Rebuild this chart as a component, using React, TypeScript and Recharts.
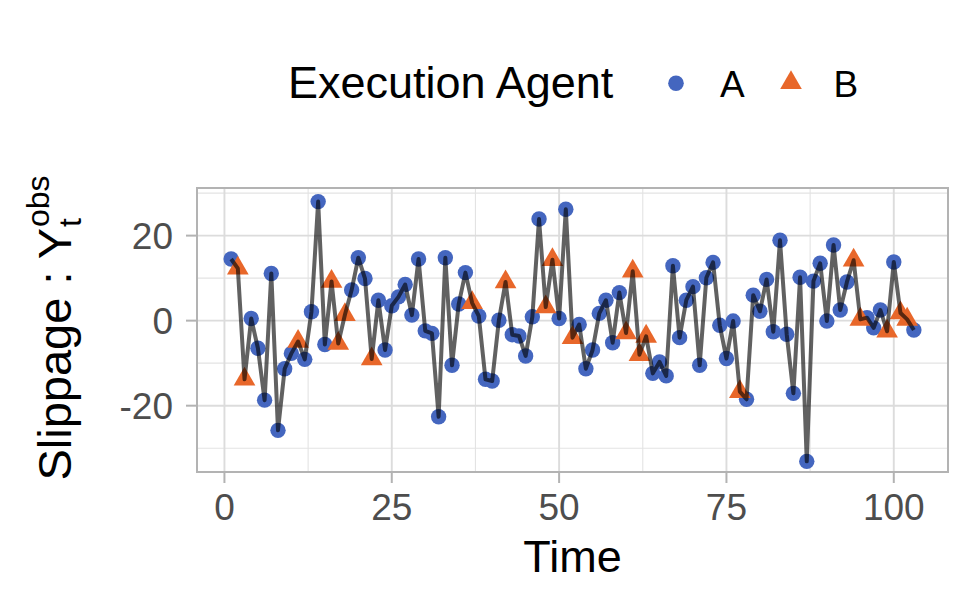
import React from "react";
import {
  ComposedChart,
  Scatter,
  Line,
  XAxis,
  YAxis,
  CartesianGrid,
  ReferenceArea,
} from "recharts";

const times = [
  1, 2, 3, 4, 5, 6, 7, 8, 9, 10, 11, 12, 13, 14, 15, 16, 17, 18, 19, 20,
  21, 22, 23, 24, 25, 26, 27, 28, 29, 30, 31, 32, 33, 34, 35, 36, 37, 38, 39, 40,
  41, 42, 43, 44, 45, 46, 47, 48, 49, 50, 51, 52, 53, 54, 55, 56, 57, 58, 59, 60,
  61, 62, 63, 64, 65, 66, 67, 68, 69, 70, 71, 72, 73, 74, 75, 76, 77, 78, 79, 80,
  81, 82, 83, 84, 85, 86, 87, 88, 89, 90, 91, 92, 93, 94, 95, 96, 97, 98, 99, 100,
  101, 102, 103,
];

const slippage = [
  14.5, 12.3, -13.8, 0.5, -6.5, -18.7, 11.1, -25.8, -11.3, -7.7,
  -4.9, -9.1, 2.1, 28.0, -5.6, 9.2, -5.4, 1.4, 7.2, 14.8,
  9.9, -9.0, 4.8, -6.9, 3.5, 5.6, 8.5, 1.3, 14.5, -2.4,
  -3.0, -22.6, 14.8, -10.5, 3.9, 11.3, 4.2, 1.1, -13.8, -14.2,
  0.1, 9.1, -3.3, -3.6, -8.3, 0.9, 23.9, 3.2, 14.3, 0.5,
  26.2, -4.0, -0.9, -11.3, -6.9, 1.7, 4.8, -5.2, 6.6, -2.9,
  11.6, -8.0, -3.7, -12.4, -9.7, -13.0, 12.9, -4.0, 4.8, 8.0,
  -10.5, 10.1, 13.7, -1.1, -8.9, -0.1, -16.7, -18.5, 6.0, 2.2,
  9.7, -2.6, 18.9, -3.2, -17.1, 10.2, -33.1, 9.3, 13.5, -0.1,
  17.8, 2.5, 9.1, 14.2, 0.3, 0.7, -1.7, 2.5, -2.5, 13.8,
  1.8, 0.3, -2.2,
];

const agents = [
  "A", "B", "B", "A", "A", "A", "A", "A", "A", "A",
  "B", "A", "A", "A", "A", "B", "B", "B", "A", "A",
  "A", "B", "A", "A", "A", "A", "A", "A", "A", "A",
  "A", "A", "A", "A", "A", "A", "B", "A", "A", "A",
  "A", "B", "A", "A", "A", "A", "A", "B", "B", "A",
  "A", "B", "A", "A", "A", "A", "A", "A", "A", "B",
  "B", "B", "B", "A", "A", "A", "A", "A", "A", "A",
  "A", "A", "A", "A", "A", "A", "B", "A", "A", "A",
  "A", "A", "A", "A", "A", "A", "A", "A", "A", "A",
  "A", "A", "A", "B", "B", "A", "A", "A", "B", "A",
  "B", "B", "A",
];

const xTicks = [0, 25, 50, 75, 100];
const xMinor = [12.5, 37.5, 62.5, 87.5];
const yTicks = [-20, 0, 20];
const yMinor = [-30, -10, 10, 30];

const FONT = "'Liberation Sans', Arial, Helvetica, sans-serif";
const BLUE = "#4466bf";
const ORANGE = "#e8672a";
const X_DOMAIN: [number, number] = [-4.1, 108.1];
const Y_DOMAIN: [number, number] = [-35.6, 31.2];

const rows = times.map((t, i) => ({ time: t, value: slippage[i], agent: agents[i] }));
const rowsA = rows.filter((r) => r.agent === "A");
const rowsB = rows.filter((r) => r.agent === "B");

const CircleDot = (props: any) => {
  const { cx, cy } = props;
  if (cx == null || cy == null) return null;
  return <circle cx={cx} cy={cy} r={7.7} fill={BLUE} />;
};

const TriangleDot = (props: any) => {
  const { cx, cy } = props;
  if (cx == null || cy == null) return null;
  const s = 8.05;
  const pts = [
    [cx, cy - 1.555 * s],
    [cx + 1.347 * s, cy + 0.778 * s],
    [cx - 1.347 * s, cy + 0.778 * s],
  ]
    .map((p) => p.join(","))
    .join(" ");
  return <polygon points={pts} fill={ORANGE} />;
};

const YTitle = (props: any) => {
  const vb = props.viewBox || {};
  const x = 71;
  const y = (vb.y ?? 188) + (vb.height ?? 284) / 2 - 2;
  return (
    <text
      x={x}
      y={y}
      transform={`rotate(-90, ${x}, ${y})`}
      textAnchor="middle"
      fontFamily={FONT}
      fontSize={47}
      fill="#000"
    >
      <tspan>Slippage : Y</tspan>
      <tspan fontSize={32} dx={1} dy={10}>t</tspan>
      <tspan fontSize={32} dx={-8.9} dy={-32}>obs</tspan>
    </text>
  );
};

const XTitle = (props: any) => {
  const vb = props.viewBox || {};
  const x = (vb.x ?? 197) + (vb.width ?? 751) / 2;
  const y = (vb.y ?? 472) + 100;
  return (
    <text x={x} y={y} textAnchor="middle" fontFamily={FONT} fontSize={45} fill="#000">
      Time
    </text>
  );
};

function LegendBox() {
  return (
    <svg width={975} height={140} style={{ position: "absolute", left: 0, top: 0 }}>
      <text x={288} y={98} fontFamily={FONT} fontSize={45} fill="#000">
        Execution Agent
      </text>
      <circle cx={676} cy={83.3} r={7.8} fill={BLUE} />
      <text x={720} y={97} fontFamily={FONT} fontSize={37} fill="#000">
        A
      </text>
      <polygon points="791,70.2 801.8,88.9 780.2,88.9" fill={ORANGE} />
      <text x={833.5} y={97} fontFamily={FONT} fontSize={37} fill="#000">
        B
      </text>
    </svg>
  );
}

export default function App() {
  return (
    <div style={{ position: "absolute", left: 0, top: 0, width: 975, height: 600, background: "#fff" }}>
      <ComposedChart
        width={975}
        height={600}
        data={rows}
        margin={{ top: 188, right: 27, bottom: 0, left: 0 }}
      >
        <CartesianGrid
          stroke="#e3e3e3"
          strokeWidth={1.1}
          horizontalValues={yMinor}
          verticalValues={xMinor}
        />
        <CartesianGrid
          stroke="#dcdcdc"
          strokeWidth={1.9}
          horizontalValues={yTicks}
          verticalValues={xTicks}
        />
        <XAxis
          dataKey="time"
          type="number"
          domain={X_DOMAIN}
          ticks={xTicks}
          allowDataOverflow
          height={128}
          axisLine={false}
          tickSize={11}
          tickMargin={11}
          tickLine={{ stroke: "#b3b3b3", strokeWidth: 2 }}
          tick={{ fill: "#4d4d4d", fontSize: 37, fontFamily: FONT }}
          label={<XTitle />}
        />
        <YAxis
          type="number"
          domain={Y_DOMAIN}
          ticks={yTicks}
          allowDataOverflow
          width={197}
          axisLine={false}
          tickSize={11}
          tickMargin={13}
          tickLine={{ stroke: "#b3b3b3", strokeWidth: 2 }}
          tick={{ fill: "#4d4d4d", fontSize: 37, fontFamily: FONT }}
          label={<YTitle />}
        />
        <ReferenceArea
          x1={X_DOMAIN[0]}
          x2={X_DOMAIN[1]}
          y1={Y_DOMAIN[0]}
          y2={Y_DOMAIN[1]}
          fill="none"
          stroke="#b3b3b3"
          strokeWidth={2}
        />
        <Scatter name="A" data={rowsA} dataKey="value" shape={<CircleDot />} isAnimationActive={false} />
        <Scatter name="B" data={rowsB} dataKey="value" shape={<TriangleDot />} isAnimationActive={false} />
        <Line
          type="linear"
          dataKey="value"
          stroke="#000"
          strokeOpacity={0.62}
          strokeWidth={4}
          strokeLinejoin="round"
          dot={false}
          activeDot={false}
          isAnimationActive={false}
          zIndex={700}
        />
      </ComposedChart>
      <LegendBox />
    </div>
  );
}
